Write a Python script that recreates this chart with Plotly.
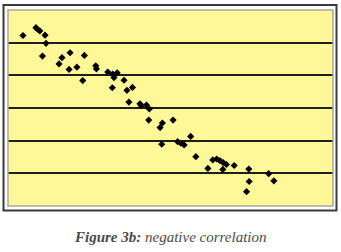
import plotly.graph_objects as go

x_vals = [4.6, 8.6, 9.1, 9.8, 11.4, 11.7, 10.6, 16.6, 15.7, 19.1, 18.8, 21.2, 23.5, 23.0,
          27.0, 27.2, 30.7, 32.2, 32.6, 33.6, 35.7, 32.1, 36.6, 38.3, 37.2, 40.6, 41.0,
          42.6, 43.5, 43.3, 47.5, 46.8, 50.8, 47.3, 52.2, 53.2, 54.2, 56.2, 57.8, 61.5,
          63.0, 64.2, 65.2, 66.2, 67.2, 66.1, 69.6, 74.1, 74.2, 73.4, 80.2, 81.8]
y_vals = [52.2, 54.6, 54.1, 53.6, 52.3, 49.8, 45.9, 45.4, 43.5, 46.9, 41.8, 42.5, 46.1, 38.4,
          42.9, 42.0, 41.0, 40.4, 39.3, 40.8, 38.5, 36.2, 35.4, 36.3, 31.8, 31.3, 30.7,
          30.9, 29.7, 26.3, 25.4, 24.0, 26.3, 18.9, 19.7, 19.2, 18.7, 21.3, 15.1, 11.5,
          14.1, 14.4, 13.9, 13.3, 12.7, 11.2, 12.4, 11.3, 7.5, 4.4, 9.9, 7.7]
y_grid = [10, 20, 30, 40, 50]
caption_bold = "Figure 3b:"
caption_rest = " negative correlation"

W, H = 341, 252
ml, mr, mt, mb = 8, 8, 10, 46
pw, ph = W - ml - mr, H - mt - mb

fig = go.Figure()
fig.add_trace(go.Scatter(
    x=x_vals, y=y_vals, mode="markers",
    marker=dict(symbol="diamond", size=5.5, color="black"),
    showlegend=False, hoverinfo="skip"))

def px_x(p):
    return (p - ml) / pw

def px_y(p):
    return 1 - (p - mt) / ph

shapes = []
# outer frame
shapes.append(dict(type="rect", xref="paper", yref="paper",
                   x0=px_x(3.5), x1=px_x(336.5), y0=px_y(210.5), y1=px_y(5),
                   line=dict(color="#3a3a3a", width=2), fillcolor="rgba(0,0,0,0)", layer="below"))
# plot area border
shapes.append(dict(type="rect", xref="paper", yref="paper",
                   x0=0, x1=1, y0=0, y1=1,
                   line=dict(color="#a8a8a0", width=1.5), fillcolor="rgba(0,0,0,0)", layer="above"))

fig.update_layout(
    width=W, height=H,
    margin=dict(l=ml, r=mr, t=mt, b=mb),
    paper_bgcolor="white", plot_bgcolor="#FFF899",
    xaxis=dict(range=[0, 100], showgrid=False, zeroline=False, showticklabels=False,
               ticks="", showline=False),
    yaxis=dict(range=[0, 60], tickvals=y_grid, showgrid=True, gridcolor="#1e1e1e",
               gridwidth=1.5, zeroline=False, showticklabels=False, ticks="", showline=False),
    shapes=shapes,
    annotations=[dict(
        xref="paper", yref="paper", x=0.5, y=px_y(237), xanchor="center", yanchor="middle",
        text="<b><i>" + caption_bold + "</i></b><i>" + caption_rest + "</i>",
        showarrow=False,
        font=dict(family="Liberation Serif", size=15, color="#4a4a4a"))],
)

fig.write_html("out.html")
